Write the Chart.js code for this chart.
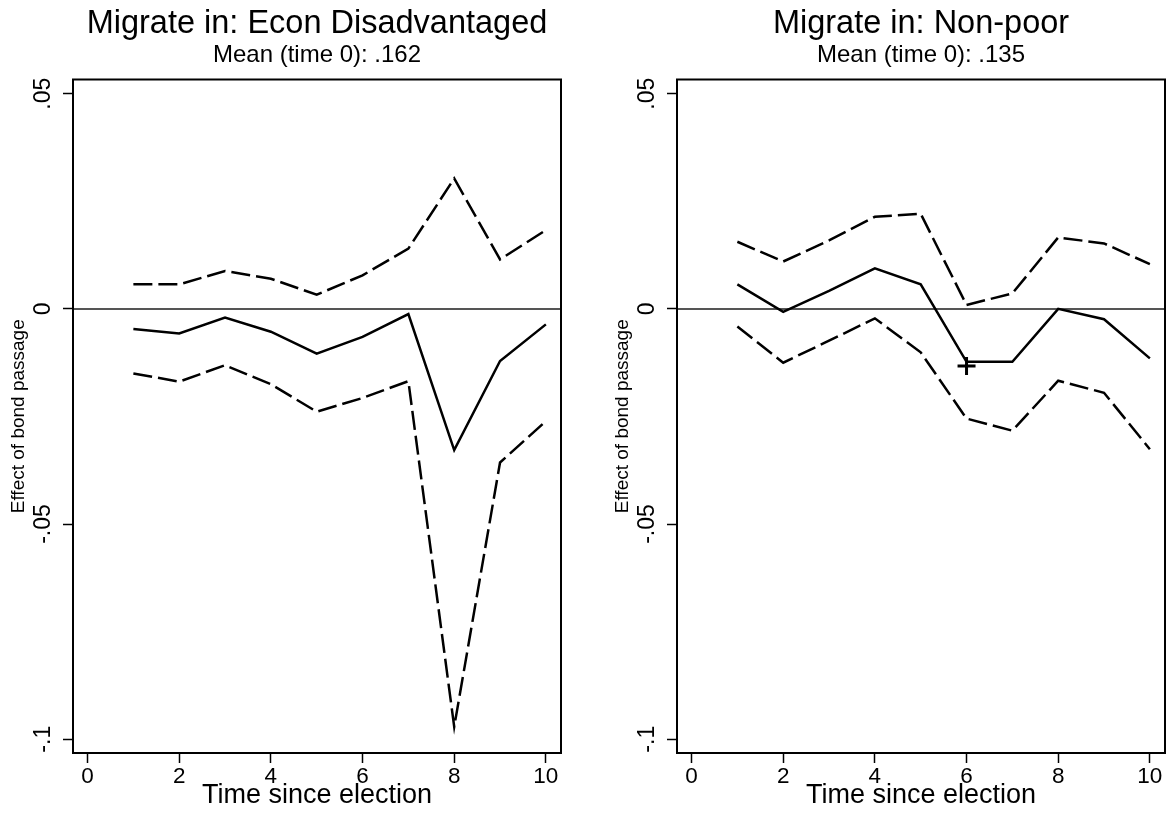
<!DOCTYPE html>
<html><head><meta charset="utf-8">
<script src="https://cdn.jsdelivr.net/npm/chart.js@4"></script>
<style>
html,body{margin:0;padding:0;background:#fff;overflow:hidden;}
#wrap{position:relative;width:1167px;height:818px;overflow:hidden;}
.c{position:absolute;top:0;height:818px;}
</style></head><body>
<div id="wrap">
<div class="c" style="left:0;width:600px;"><canvas id="c1"></canvas></div>
<div class="c" style="left:604px;width:573px;"><canvas id="c2"></canvas></div>
</div>
<script>
// ---- data ----
const years = [1, 2, 3, 4, 5, 6, 7, 8, 9, 10];
const xTicks = [0, 2, 4, 6, 8, 10];
const yTicks = [-0.1, -0.05, 0, 0.05];
const yTickLabels = ['-.1', '-.05', '0', '.05'];

const econTitle = 'Migrate in: Econ Disadvantaged';
const econSubtitle = 'Mean (time 0): .162';
const econEst   = [-0.0047, -0.0057, -0.0020, -0.0053, -0.0104, -0.0065, -0.0012, -0.0328, -0.0121, -0.0036];
const econUpper = [0.0057, 0.0057, 0.0088, 0.0070, 0.0033, 0.0078, 0.0140, 0.0303, 0.0115, 0.0183];
const econLower = [-0.0150, -0.0169, -0.0131, -0.0175, -0.0239, -0.0207, -0.0168, -0.0971, -0.0357, -0.0261];

const npTitle = 'Migrate in: Non-poor';
const npSubtitle = 'Mean (time 0): .135';
const npEst   = [0.0057, -0.0007, 0.0042, 0.0094, 0.0057, -0.0123, -0.0123, 0.0000, -0.0024, -0.0115];
const npUpper = [0.0156, 0.0110, 0.0159, 0.0214, 0.0221, 0.0009, 0.0036, 0.0166, 0.0152, 0.0104];
const npLower = [-0.0041, -0.0125, -0.0074, -0.0022, -0.0101, -0.0255, -0.0283, -0.0167, -0.0195, -0.0326];
const npMarkerX = [6];
const npMarkerY = [-0.0133];

// ---- drawing ----
const FONT = '"Liberation Sans", Arial, Helvetica, sans-serif';
const frame = {
  id: 'frame',
  afterDatasetsDraw(chart) {
    const a = chart.chartArea, ctx = chart.ctx;
    ctx.save(); ctx.strokeStyle = '#000'; ctx.lineWidth = 2;
    ctx.strokeRect(a.left, a.top, a.right - a.left, a.bottom - a.top);
    ctx.restore();
  }
};
const zeroLine = {
  id: 'zeroLine',
  beforeDatasetsDraw(chart) {
    const a = chart.chartArea, ctx = chart.ctx, y = chart.scales.y.getPixelForValue(0);
    ctx.save(); ctx.strokeStyle = '#555'; ctx.lineWidth = 2;
    ctx.beginPath(); ctx.moveTo(a.left, y); ctx.lineTo(a.right, y); ctx.stroke();
    ctx.restore();
  }
};
const pts = (xs, ys) => xs.map((x, i) => ({x: x, y: ys[i]}));
const noPad = s => { s.paddingLeft = 0; s.paddingRight = 0; s.paddingTop = 0; s.paddingBottom = 0; };

function makeChart(id, title, subtitle, est, up, lo, mx, my, padRight) {
  const datasets = [
    {data: pts(years, up), borderColor: '#000', borderWidth: 2.5, borderDash: [19, 6], pointRadius: 0, fill: false, tension: 0},
    {data: pts(years, est), borderColor: '#000', borderWidth: 2.5, pointRadius: 0, fill: false, tension: 0},
    {data: pts(years, lo), borderColor: '#000', borderWidth: 2.5, borderDash: [19, 6], pointRadius: 0, fill: false, tension: 0}
  ];
  if (mx) datasets.push({data: pts(mx, my), showLine: false, pointStyle: 'cross', pointRadius: 9, borderColor: '#000', borderWidth: 3, backgroundColor: '#000'});
  return new Chart(document.getElementById(id), {
    type: 'line',
    data: {datasets},
    options: {
      responsive: true, maintainAspectRatio: false, animation: false, devicePixelRatio: 1,
      layout: {padding: {top: 0, left: 0, right: padRight, bottom: 0}},
      plugins: {
        legend: {display: false}, tooltip: {enabled: false},
        title: {display: true, text: title, color: '#000', fullSize: false, font: {family: FONT, size: 32.5, weight: 'normal', lineHeight: 1.0}, padding: {top: 8, bottom: 0}},
        subtitle: {display: true, text: subtitle, color: '#000', fullSize: false, font: {family: FONT, size: 24, weight: 'normal', lineHeight: 1.0}, padding: {top: 3, bottom: 12}}
      },
      scales: {
        x: {
          type: 'linear', min: -0.317, max: 10.33,
          afterBuildTicks: s => { s.ticks = xTicks.map(v => ({value: v})); },
          afterFit: s => { s.height = 65; noPad(s); },
          ticks: {color: '#000', font: {family: FONT, size: 22.5}, padding: 0, autoSkip: false, maxRotation: 0, callback: v => String(v)},
          grid: {display: true, drawOnChartArea: false, drawTicks: true, tickLength: 10, tickColor: '#000', tickWidth: 1.5},
          border: {display: true, color: '#000', width: 2},
          title: {display: true, text: 'Time since election', color: '#000', font: {family: FONT, size: 27}, padding: {top: 0, bottom: 6}}
        },
        y: {
          type: 'linear', min: -0.1032, max: 0.0533,
          afterBuildTicks: s => { s.ticks = yTicks.map(v => ({value: v})); },
          afterFit: s => { s.width = 73; noPad(s); },
          ticks: {color: '#000', font: {family: FONT, size: 23}, padding: 0, autoSkip: false, minRotation: 90, maxRotation: 90, crossAlign: 'center',
                  callback: (v, i) => yTickLabels[i]},
          grid: {display: true, drawOnChartArea: false, drawTicks: true, tickLength: 10, tickColor: '#000', tickWidth: 1.5},
          border: {display: true, color: '#000', width: 2},
          title: {display: true, text: 'Effect of bond passage', color: '#000', font: {family: FONT, size: 19}, padding: {top: 7, bottom: 0}}
        }
      }
    },
    plugins: [zeroLine, frame]
  });
}
makeChart('c1', econTitle, econSubtitle, econEst, econUpper, econLower, null, null, 39);
makeChart('c2', npTitle, npSubtitle, npEst, npUpper, npLower, npMarkerX, npMarkerY, 2);
</script>
</body></html>
